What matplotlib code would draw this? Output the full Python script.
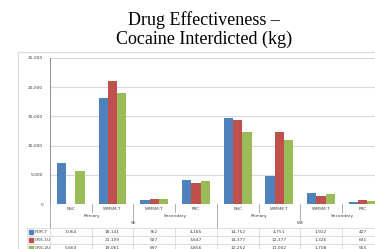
import matplotlib
matplotlib.use("Agg")
import matplotlib.pyplot as plt
import numpy as np
from matplotlib import transforms
from matplotlib.lines import Line2D
from matplotlib.patches import Rectangle

W, H = 375, 249
DPI = 100

categories = ["NSC", "WMSM-T", "WMSM-T", "FRC", "NSC", "WMSM-T", "WMSM-T", "FRC"]
level_labels = ["Primary", "Secondary", "Primary", "Secondary"]
region_labels = ["SE", "WE"]
series_names = ["POR-T", "CRS-1U", "CRS-2U"]
por_t = [7064, 18141, 762, 4185, 14752, 4751, 1922, 427]
crs_1u = [np.nan, 21109, 927, 3647, 14377, 12377, 1326, 641]
crs_2u = [5663, 19061, 897, 3856, 12252, 11002, 1708, 555]
yticks = [0, 5000, 10000, 15000, 20000, 25000]

COLORS = ["#4F81BD", "#C0504D", "#9BBB59"]
GRID = "#D9D9D9"
TXT = "#404040"
SMALL = 3.2


def fy(px):
    return 1 - px / H


fig = plt.figure(figsize=(W / DPI, H / DPI), dpi=DPI)

# chart area border
fig.add_artist(Line2D([18 / W, 18 / W], [fy(52), 0], transform=fig.transFigure, color=GRID, lw=0.8))
fig.add_artist(Line2D([18 / W, 1], [fy(52), fy(52)], transform=fig.transFigure, color=GRID, lw=0.8))

fig.text(204 / W, fy(11), "Drug Effectiveness \u2013\nCocaine Interdicted (kg)",
         ha="center", va="top", family="Liberation Serif", fontsize=13, linespacing=1.1)

group_w = 41.7
ax = fig.add_axes([50 / W, fy(204), 8 * group_w / W, (204 - 58) / H])
x = np.arange(len(categories))
bw = 0.222
for i, vals in enumerate([por_t, crs_1u, crs_2u]):
    ax.bar(x + (i - 1) * bw, vals, width=bw, color=COLORS[i], zorder=3)

ax.set_xlim(-0.5, len(categories) - 0.5)
ax.set_ylim(0, 25000)
ax.set_yticks(yticks)
ax.set_yticklabels([f"{v:,}" for v in yticks], fontsize=SMALL, color=TXT)
ax.tick_params(axis="y", length=0, pad=5)
ax.set_xticks([])
ax.grid(True, axis="y", color=GRID, lw=0.8, zorder=0)
for s in ["top", "right", "bottom"]:
    ax.spines[s].set_visible(False)
ax.spines["left"].set_color("#808080")
ax.spines["left"].set_linewidth(0.6)
ax.axhline(0, color="#808080", lw=0.6, zorder=4)

tr = transforms.blended_transform_factory(ax.transData, fig.transFigure)


def vline(xd, y0, y1, color=GRID):
    fig.add_artist(Line2D([xd, xd], [fy(y0), fy(y1)], transform=tr, color=color, lw=0.6, clip_on=False))


def hline(x0, x1, ypx):
    fig.add_artist(Line2D([x0, x1], [fy(ypx), fy(ypx)], transform=tr, color=GRID, lw=0.6, clip_on=False))


# multi-level category axis
for k, c in enumerate(categories):
    ax.text(k, fy(208.5), c, transform=tr, ha="center", va="center", fontsize=SMALL, color=TXT)
for k, c in enumerate(level_labels):
    ax.text(2 * k + 0.5, fy(216), c, transform=tr, ha="center", va="center", fontsize=SMALL, color=TXT)
for k, c in enumerate(region_labels):
    ax.text(4 * k + 1.5, fy(223.5), c, transform=tr, ha="center", va="center", fontsize=SMALL, color=TXT)

for k in range(len(categories) + 1):
    xe = k - 0.5
    if k % 4 == 0:
        vline(xe, 204, 228, "#A0A0A0")
    elif k % 2 == 0:
        vline(xe, 204, 219.5, "#A0A0A0")
    else:
        vline(xe, 204, 212, "#A0A0A0")

# data table
tab_left = -0.5 - 23 / group_w
row_tops = [227.7, 236, 244.3]
row_h = 8.3
for ry in row_tops:
    hline(tab_left, len(categories) - 0.5, ry)
vline(tab_left, 227.7, 260)
for k in range(len(categories) + 1):
    vline(k - 0.5, 227.7, 260)

for i, (name, vals) in enumerate(zip(series_names, [por_t, crs_1u, crs_2u])):
    yc = row_tops[i] + row_h / 2
    sq = 4 / group_w
    fig.add_artist(Rectangle((tab_left + 2.5 / group_w, fy(yc + 2)), sq, 4 / H,
                             transform=tr, color=COLORS[i], clip_on=False))
    ax.text(tab_left + 7.5 / group_w, fy(yc), name, transform=tr, ha="left", va="center",
            fontsize=SMALL, color=TXT)
    for k, v in enumerate(vals):
        if np.isnan(v):
            continue
        ax.text(k, fy(yc), f"{int(v):,}", transform=tr, ha="center", va="center",
                fontsize=SMALL, color=TXT)

fig.savefig("out.png", dpi=DPI)
